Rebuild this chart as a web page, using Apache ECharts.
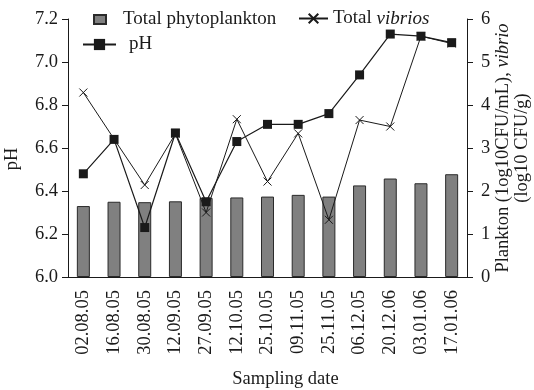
<!DOCTYPE html>
<html><head><meta charset="utf-8">
<script src="https://cdn.jsdelivr.net/npm/echarts@6/dist/echarts.min.js"></script>
<style>html,body{margin:0;padding:0;background:#fff}#c{width:534px;height:390px}</style>
</head><body><div id="c"></div>
<script>
const categories = ['02.08.05','16.08.05','30.08.05','12.09.05','27.09.05','12.10.05','25.10.05','09.11.05','25.11.05','06.12.05','20.12.06','03.01.06','17.01.06'];
const phytoplankton = [1.65,1.75,1.74,1.76,1.84,1.85,1.87,1.91,1.87,2.13,2.29,2.18,2.39];
const vibrios = [4.29,3.21,2.14,3.33,1.50,3.67,2.22,3.34,1.33,3.65,3.50,5.60,5.43];
const pH = [6.48,6.64,6.23,6.67,6.35,6.63,6.71,6.71,6.76,6.94,7.13,7.12,7.09];
const leftTicks = [6.0,6.2,6.4,6.6,6.8,7.0,7.2];
const rightTicks = [0,1,2,3,4,5,6];

const F = 'Liberation Serif, Times New Roman, serif';
const FS = 18.5;
const LFS = 19;
const txt = {fontFamily:F,fontSize:FS,color:'#1a1a1a'};
const ltxt = {fontFamily:F,fontSize:LFS,color:'#1a1a1a'};
const crossPath = 'path://M0,0L10,10M10,0L0,10';

const chart = echarts.init(document.getElementById('c'), null, {renderer:'canvas'});
chart.setOption({
  animation:false,
  backgroundColor:'#fff',
  grid:{left:68,right:67,top:19,bottom:113,containLabel:false,outerBoundsMode:'none'},
  legend:[
    {data:[{name:'Total phytoplankton',icon:'rect'}],left:88,top:5,itemWidth:12,itemHeight:9,
     textStyle:Object.assign({padding:[0,0,0,12]},ltxt)},
    {data:['Total vibrios'],left:293,top:4,itemWidth:29,itemHeight:12,
     formatter:n=>'Total {i|vibrios}',
     textStyle:Object.assign({rich:{i:{fontStyle:'italic',fontFamily:F,fontSize:LFS,color:'#1a1a1a'}}},ltxt)},
    {data:['pH'],left:77,top:30,itemWidth:33,itemHeight:14,
     textStyle:Object.assign({padding:[0,0,0,8]},ltxt)}
  ],
  xAxis:{
    type:'category',data:categories,boundaryGap:true,
    name:'Sampling date',nameLocation:'middle',nameGap:93,nameMoveOverlap:false,
    nameTextStyle:Object.assign({padding:[0,0,0,36]},txt),
    axisLine:{lineStyle:{color:'#1a1a1a',width:1}},
    axisTick:{alignWithLabel:false,length:6,lineStyle:{color:'#1a1a1a'}},
    axisLabel:Object.assign({rotate:90,margin:13,interval:0},txt)
  },
  yAxis:[
    {type:'value',min:leftTicks[0],max:leftTicks[leftTicks.length-1],interval:0.2,
     name:'pH',nameLocation:'middle',nameGap:46,nameRotate:90,nameMoveOverlap:false,
     nameTextStyle:Object.assign({padding:[0,22,0,0]},txt),
     axisLine:{show:true,lineStyle:{color:'#1a1a1a'}},
     axisTick:{show:true,length:6,lineStyle:{color:'#1a1a1a'}},
     axisLabel:Object.assign({margin:10,formatter:v=>v.toFixed(1)},txt),
     splitLine:{show:false}},
    {type:'value',min:rightTicks[0],max:rightTicks[rightTicks.length-1],interval:1,position:'right',
     name:'Plankton (1og10CFU/mL), {i|vibrio}\n(log10 CFU/g)',nameLocation:'middle',nameGap:27,nameRotate:90,nameMoveOverlap:false,
     nameTextStyle:Object.assign({lineHeight:19,align:'center',rich:{i:{fontStyle:'italic',fontFamily:F,fontSize:FS,color:'#1a1a1a',lineHeight:19}}},txt),
     axisLine:{show:true,lineStyle:{color:'#1a1a1a'}},
     axisTick:{show:true,length:6,lineStyle:{color:'#1a1a1a'}},
     axisLabel:Object.assign({margin:14},txt),
     splitLine:{show:false}}
  ],
  series:[
    {name:'Total phytoplankton',type:'bar',yAxisIndex:1,data:phytoplankton,barWidth:13,
     itemStyle:{color:'#808080',borderColor:'#2a2a2a',borderWidth:1}},
    {name:'Total vibrios',type:'line',yAxisIndex:1,data:vibrios,symbol:crossPath,symbolSize:8,
     showAllSymbol:true,
     lineStyle:{color:'#1a1a1a',width:1},
     itemStyle:{color:'#1a1a1a',borderColor:'#1a1a1a',borderWidth:1}},
    {name:'pH',type:'line',yAxisIndex:0,data:pH,symbol:'rect',symbolSize:9,
     showAllSymbol:true,
     lineStyle:{color:'#1a1a1a',width:1.2},
     itemStyle:{color:'#1a1a1a'}}
  ]
});
</script></body></html>
